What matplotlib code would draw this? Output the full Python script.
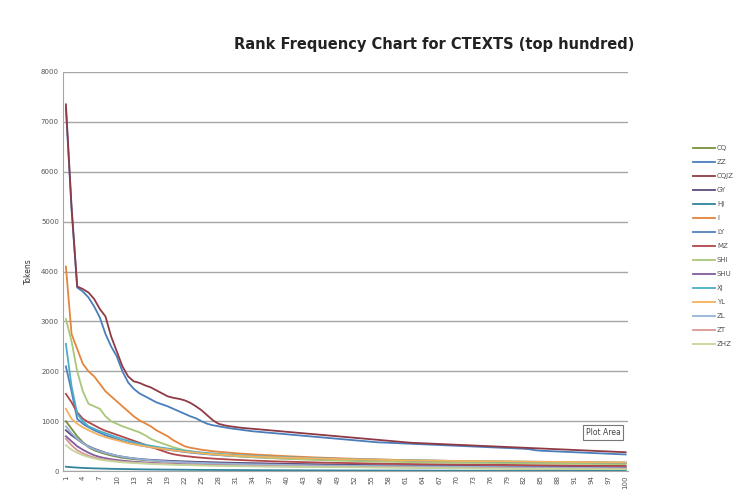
import matplotlib
matplotlib.use("Agg")
import matplotlib.pyplot as plt
import numpy as np

# rank 1..100, token counts
ranks = list(range(1, 101))

cq = [1000, 850, 700, 580, 480, 420, 380, 345, 315, 290,
      270, 255, 242, 231, 222, 214, 207, 201, 195, 190,
      185, 180, 176, 172, 168, 165, 162, 159, 156, 153,
      150, 148, 146, 144, 142, 140, 138, 136, 134, 132,
      130, 128, 126, 124, 122, 120, 118, 116, 114, 112,
      111, 110, 109, 108, 107, 106, 105, 104, 103, 102,
      101, 100, 99, 98, 97, 96, 95, 94, 93, 92,
      91, 90, 89, 88, 87, 86, 85, 84, 83, 82,
      81, 80, 79, 78, 77, 76, 75, 74, 73, 72,
      71, 70, 69, 68, 67, 66, 65, 64, 63, 62]

zz = [7280, 5250, 3680, 3600, 3480, 3300, 3080, 2750, 2500, 2300,
      2000, 1780, 1650, 1560, 1500, 1440, 1380, 1340, 1300, 1250,
      1200, 1150, 1100, 1060, 1000, 950, 920, 900, 880, 860,
      845, 830, 815, 800, 790, 780, 770, 760, 750, 740,
      730, 720, 710, 700, 690, 680, 670, 660, 650, 640,
      630, 620, 610, 600, 590, 580, 575, 570, 565, 560,
      555, 550, 545, 540, 535, 530, 525, 520, 515, 510,
      505, 500, 495, 490, 485, 480, 475, 470, 465, 460,
      455, 450, 440, 420, 410, 405, 400, 395, 390, 385,
      380, 375, 370, 365, 360, 355, 350, 345, 340, 335]

cqjz = [7350, 5300, 3700, 3650, 3580, 3450, 3250, 3100, 2700, 2400,
        2100, 1900, 1800, 1770, 1720, 1680, 1620, 1560, 1500, 1470,
        1450, 1420, 1370, 1300, 1220, 1120, 1020, 950, 920, 900,
        885, 870, 860, 850, 840, 830, 820, 810, 800, 790,
        780, 770, 760, 750, 740, 730, 720, 710, 700, 690,
        680, 670, 660, 650, 640, 630, 620, 610, 600, 590,
        580, 570, 565, 560, 555, 550, 545, 540, 535, 530,
        525, 520, 515, 510, 505, 500, 495, 490, 485, 480,
        475, 470, 465, 460, 455, 450, 445, 440, 435, 430,
        425, 420, 415, 410, 405, 400, 395, 390, 385, 380]

gy = [820, 720, 640, 560, 500, 450, 410, 370, 340, 310,
      290, 272, 258, 246, 236, 228, 221, 215, 210, 205,
      200, 196, 192, 188, 185, 182, 179, 176, 173, 170,
      167, 165, 163, 161, 159, 157, 155, 153, 151, 149,
      147, 145, 143, 141, 139, 137, 135, 133, 131, 129,
      127, 126, 125, 124, 123, 122, 121, 120, 119, 118,
      117, 116, 115, 114, 113, 112, 111, 110, 109, 108,
      107, 106, 105, 104, 103, 102, 101, 100, 99, 98,
      97, 96, 95, 94, 93, 92, 91, 90, 89, 88,
      87, 86, 85, 84, 83, 82, 81, 80, 79, 78]

hj = [90, 80, 72, 66, 61, 57, 54, 51, 48, 46,
      44, 42, 40, 38, 36, 35, 34, 33, 32, 31,
      30, 29, 28, 27, 26, 25, 25, 24, 24, 23,
      23, 22, 22, 21, 21, 20, 20, 19, 19, 18,
      18, 18, 17, 17, 17, 16, 16, 16, 15, 15,
      15, 15, 14, 14, 14, 14, 13, 13, 13, 13,
      12, 12, 12, 12, 12, 11, 11, 11, 11, 11,
      10, 10, 10, 10, 10, 10, 9, 9, 9, 9,
      9, 9, 9, 8, 8, 8, 8, 8, 8, 8,
      7, 7, 7, 7, 7, 7, 7, 7, 6, 6]

i_ = [4100, 2750, 2450, 2150, 2000, 1900, 1750, 1600, 1500, 1400,
      1300, 1200, 1100, 1020, 960, 900, 820, 760, 700, 620,
      560, 500, 470, 450, 430, 415, 400, 390, 380, 370,
      360, 352, 345, 338, 331, 325, 319, 313, 307, 301,
      296, 291, 286, 281, 276, 272, 268, 264, 260, 256,
      252, 249, 246, 243, 240, 237, 234, 231, 228, 225,
      223, 221, 219, 217, 215, 213, 211, 209, 207, 205,
      203, 201, 199, 197, 196, 195, 194, 193, 192, 191,
      190, 189, 188, 187, 186, 185, 184, 183, 182, 181,
      180, 179, 178, 177, 176, 175, 174, 173, 172, 171]

ly = [2100, 1600, 1050, 950, 880, 820, 770, 720, 680, 640,
      600, 570, 545, 520, 500, 480, 462, 445, 430, 415,
      400, 386, 373, 361, 350, 340, 331, 323, 315, 308,
      301, 295, 289, 283, 278, 273, 268, 263, 259, 255,
      251, 247, 243, 240, 237, 234, 231, 228, 225, 222,
      219, 216, 214, 212, 210, 208, 206, 204, 202, 200,
      198, 196, 194, 192, 190, 189, 188, 187, 186, 185,
      184, 183, 182, 181, 180, 179, 178, 177, 176, 175,
      174, 173, 172, 171, 170, 169, 168, 167, 166, 165,
      164, 163, 162, 161, 160, 159, 158, 157, 156, 155]

mz = [1550, 1380, 1180, 1050, 980, 920, 860, 810, 770, 730,
      690, 650, 610, 570, 530, 490, 450, 410, 370, 340,
      320, 305, 292, 280, 270, 261, 253, 246, 240, 234,
      228, 223, 218, 213, 209, 205, 201, 197, 194, 191,
      188, 185, 182, 179, 176, 173, 171, 169, 167, 165,
      163, 161, 159, 157, 155, 153, 151, 149, 147, 145,
      144, 143, 142, 141, 140, 139, 138, 137, 136, 135,
      134, 133, 132, 131, 130, 129, 128, 127, 126, 125,
      124, 123, 122, 121, 120, 119, 118, 117, 116, 115,
      114, 113, 112, 111, 110, 109, 108, 107, 106, 105]

shi = [3050, 2600, 2000, 1600, 1350, 1300, 1250, 1100, 1000, 950,
       900, 860, 820, 780, 720, 650, 600, 560, 520, 480,
       450, 420, 400, 380, 365, 350, 340, 330, 320, 310,
       302, 295, 288, 281, 275, 269, 263, 258, 253, 248,
       243, 239, 235, 231, 227, 223, 219, 216, 213, 210,
       207, 204, 201, 198, 196, 194, 192, 190, 188, 186,
       184, 182, 180, 178, 176, 175, 174, 173, 172, 171,
       170, 169, 168, 167, 166, 165, 164, 163, 162, 161,
       160, 159, 158, 157, 156, 155, 154, 153, 152, 151,
       150, 149, 148, 147, 146, 145, 144, 143, 142, 141]

shu = [700, 600, 500, 430, 370, 320, 285, 260, 240, 225,
       212, 200, 190, 182, 175, 168, 162, 157, 152, 148,
       144, 140, 137, 134, 131, 128, 125, 123, 121, 119,
       117, 115, 113, 111, 109, 107, 105, 104, 103, 102,
       101, 100, 99, 98, 97, 96, 95, 94, 93, 92,
       91, 90, 89, 88, 87, 86, 85, 84, 83, 82,
       81, 80, 79, 78, 77, 76, 75, 74, 73, 72,
       71, 70, 69, 68, 67, 66, 65, 64, 63, 62,
       61, 60, 60, 59, 59, 58, 58, 57, 57, 56,
       56, 55, 55, 54, 54, 53, 53, 52, 52, 51]

xj = [2550, 1700, 1150, 1000, 900, 850, 800, 760, 720, 680,
      640, 610, 580, 555, 530, 510, 490, 470, 455, 440,
      425, 410, 398, 386, 375, 365, 356, 348, 340, 333,
      326, 320, 314, 308, 303, 298, 293, 288, 284, 280,
      276, 272, 268, 264, 261, 258, 255, 252, 249, 246,
      243, 240, 238, 236, 234, 232, 230, 228, 226, 224,
      222, 220, 218, 216, 214, 212, 210, 208, 206, 204,
      202, 200, 199, 198, 197, 196, 195, 194, 193, 192,
      191, 190, 189, 188, 187, 186, 185, 184, 183, 182,
      181, 180, 179, 178, 177, 176, 175, 174, 173, 172]

yl = [1250, 1050, 950, 880, 820, 770, 720, 680, 650, 620,
      590, 560, 540, 520, 500, 480, 465, 450, 435, 420,
      405, 392, 380, 370, 360, 350, 342, 334, 327, 320,
      314, 308, 302, 297, 292, 287, 283, 279, 275, 271,
      267, 264, 261, 258, 255, 252, 249, 246, 243, 240,
      238, 236, 234, 232, 230, 228, 226, 224, 222, 220,
      218, 216, 214, 212, 210, 209, 208, 207, 206, 205,
      204, 203, 202, 201, 200, 199, 198, 197, 196, 195,
      194, 193, 192, 191, 190, 189, 188, 187, 186, 185,
      184, 183, 182, 181, 180, 179, 178, 177, 176, 175]

zl = [900, 760, 650, 560, 490, 440, 400, 365, 335, 310,
      290, 272, 256, 242, 230, 220, 211, 203, 196, 190,
      184, 179, 174, 170, 166, 162, 158, 155, 152, 149,
      146, 143, 140, 138, 136, 134, 132, 130, 128, 126,
      124, 122, 120, 118, 116, 114, 112, 111, 110, 109,
      108, 107, 106, 105, 104, 103, 102, 101, 100, 99,
      98, 97, 96, 95, 94, 93, 92, 91, 90, 89,
      88, 87, 86, 85, 84, 83, 82, 81, 80, 79,
      78, 77, 76, 75, 74, 73, 72, 71, 70, 69,
      68, 67, 66, 65, 64, 63, 62, 61, 60, 59]

zt = [650, 520, 420, 360, 310, 275, 250, 230, 215, 202,
      192, 183, 175, 168, 162, 156, 151, 147, 143, 139,
      135, 132, 129, 126, 123, 120, 118, 116, 114, 112,
      110, 108, 106, 104, 102, 100, 99, 98, 97, 96,
      95, 94, 93, 92, 91, 90, 89, 88, 87, 86,
      85, 84, 83, 82, 81, 80, 79, 78, 77, 76,
      75, 74, 73, 72, 71, 70, 69, 68, 67, 66,
      65, 64, 63, 62, 61, 60, 59, 58, 57, 56,
      55, 55, 54, 54, 53, 53, 52, 52, 51, 51,
      50, 50, 49, 49, 48, 48, 47, 47, 46, 46]

zhz = [520, 430, 370, 320, 285, 255, 232, 214, 200, 188,
       178, 170, 163, 157, 151, 146, 141, 137, 133, 129,
       126, 123, 120, 117, 114, 112, 110, 108, 106, 104,
       102, 100, 98, 96, 95, 94, 93, 92, 91, 90,
       89, 88, 87, 86, 85, 84, 83, 82, 81, 80,
       79, 78, 77, 76, 75, 74, 73, 72, 71, 70,
       69, 68, 67, 66, 65, 64, 63, 62, 61, 60,
       59, 58, 57, 56, 55, 54, 53, 52, 51, 50,
       49, 49, 48, 48, 47, 47, 46, 46, 45, 45,
       44, 44, 43, 43, 42, 42, 41, 41, 40, 40]

series_names = ['CQ', 'ZZ', 'CQJZ', 'GY', 'HJ', 'I', 'LY', 'MZ',
                'SHI', 'SHU', 'XJ', 'YL', 'ZL', 'ZT', 'ZHZ']
series_values = [cq, zz, cqjz, gy, hj, i_, ly, mz, shi, shu, xj, yl, zl, zt, zhz]
colors = ['#76923C', '#4A7EBB', '#8E3A46', '#5F4A7A', '#31859C', '#E3853E',
          '#4F81BD', '#B2474A', '#A9C77A', '#7E5C9E', '#4BACC6', '#F2B25E',
          '#95B3D7', '#D99694', '#C3D69B']

fig = plt.figure(figsize=(7.42, 4.96), dpi=100)
ax = fig.add_axes([0.085, 0.05, 0.762, 0.805])

for name, vals, c in zip(series_names, series_values, colors):
    ax.plot(ranks, vals, color=c, lw=1.3, label=name)

ax.set_xlim(0.5, 100.5)
ax.set_ylim(0, 8000)
ax.set_yticks(np.arange(0, 8001, 1000))
ax.yaxis.grid(True, color='#a6a6a6', lw=1)
ax.set_axisbelow(True)
ax.set_xticks(ranks[::3])
ax.set_xticklabels([str(r) for r in ranks[::3]], rotation=90)
ax.tick_params(axis='both', labelsize=5, colors='#555555', length=0, pad=3)
for s in ['top', 'right']:
    ax.spines[s].set_visible(False)
for s in ['left', 'bottom']:
    ax.spines[s].set_color('#a6a6a6')

ax.set_ylabel('Tokens', fontsize=5.5, color='#333333', labelpad=6)
fig.suptitle('Rank Frequency Chart for CTEXTS (top hundred)', x=0.585, y=0.925,
             fontsize=10.5, fontweight='bold', color='#222222')

leg = fig.legend(loc='upper left', bbox_to_anchor=(0.925, 0.72), frameon=False,
                 fontsize=5, handlelength=3.2, labelspacing=1.15, handletextpad=0.3)
for t in leg.get_texts():
    t.set_color('#555555')

# Excel tooltip left in the screenshot
ax.text(0.955, 0.098, 'Plot Area', transform=ax.transAxes, fontsize=5.5, color='#444444',
        ha='center', va='center',
        bbox=dict(boxstyle='square,pad=0.4', fc='white', ec='#777777', lw=0.8))

fig.savefig('out.png', dpi=100)
